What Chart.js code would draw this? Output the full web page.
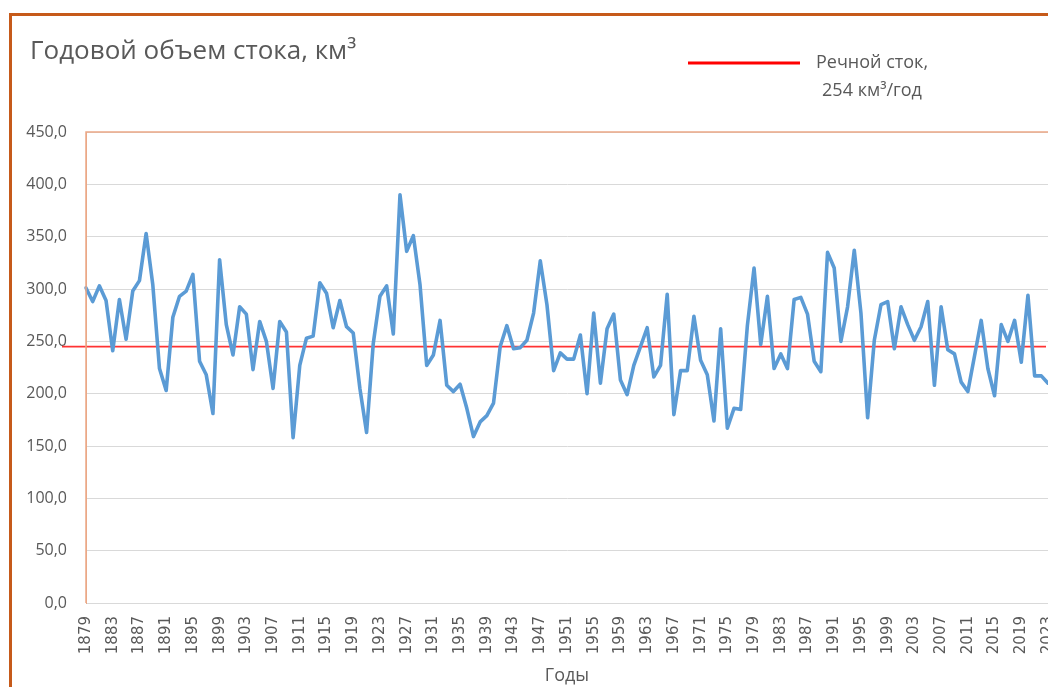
<!DOCTYPE html>
<html lang="ru">
<head>
<meta charset="utf-8">
<title>Годовой объем стока</title>
<script src="https://cdn.jsdelivr.net/npm/chart.js@4.4.1/dist/chart.umd.min.js"></script>
<style>
  html, body { margin: 0; padding: 0; background: #fff; overflow: hidden; }
  #frame {
    position: absolute; left: 9px; top: 13px; width: 1100px; height: 700px;
    border-left: 3px solid #c65a1a; border-top: 3px solid #c65a1a;
  }
  #wrap { position: absolute; left: 0; top: 0; width: 1080px; height: 687px; }
</style>
</head>
<body>
<div id="frame"></div>
<div id="wrap"><canvas id="chart"></canvas></div>
<script>
// годовой объем стока, км3
const firstYear = 1879;
const runoff = [
  301, 288, 303, 289, 241, 290, 252, 298, 308, 353, 304,   // 1879-1889
  224, 203, 273, 293, 298, 314, 231, 218, 181, 328,        // 1890-е
  266, 237, 283, 276, 223, 269, 250, 205, 269, 259,        // 1900-е
  158, 227, 253, 255, 306, 296, 263, 289, 264, 258,        // 1910-е
  205, 163, 248, 293, 303, 257, 390, 336, 351, 304,        // 1920-е
  227, 237, 270, 208, 202, 209, 186, 159, 173, 179,        // 1930-е
  191, 245, 265, 243, 244, 251, 277, 327, 285, 222,        // 1940-е
  239, 233, 233, 256, 200, 277, 210, 262, 276, 213,        // 1950-е
  199, 227, 245, 263, 216, 227, 295, 180, 222, 222,        // 1960-е
  274, 232, 218, 174, 262, 167, 186, 185, 265, 320,        // 1970-е
  247, 293, 224, 238, 224, 290, 292, 276, 231, 221,        // 1980-е
  335, 320, 250, 283, 337, 277, 177, 251, 285, 288,        // 1990-е
  243, 283, 266, 251, 264, 288, 208, 283, 242, 238,        // 2000-е
  211, 202, 236, 270, 224, 198, 266, 250, 270, 230,        // 2010-е
  294, 217, 217, 210                                       // 2020-2023
];
const years = runoff.map((v, i) => String(firstYear + i));

// линия речного стока (по положению на рисунке)
const riverFlow = 245;
const riverLabel = ['Речной сток,', '254 км³/год'];

const chartTitle = 'Годовой объем стока, км³';
const xTitle = 'Годы';
const yMax = 450;
const yStep = 50;
const labelEvery = 4;

const textColor = '#595959';
const blue = '#5b9bd5';
const red = '#ff0000';
const plotBorder = '#eba886';

const decor = {
  id: 'decor',
  beforeDatasetsDraw(chart) {
    const { ctx, chartArea, scales } = chart;
    const y = scales.y.getPixelForValue(riverFlow);
    ctx.save();
    ctx.strokeStyle = 'rgba(255,0,0,0.8)';
    ctx.lineWidth = 1.8;
    ctx.beginPath();
    ctx.moveTo(chartArea.left - 24, y);
    ctx.lineTo(chartArea.right - 2, y);
    ctx.stroke();
    ctx.restore();
  },
  afterDraw(chart) {
    const { ctx, chartArea } = chart;
    ctx.save();
    // рамка области построения
    ctx.strokeStyle = plotBorder;
    ctx.lineWidth = 1.5;
    ctx.beginPath();
    ctx.moveTo(chartArea.left, chartArea.bottom);
    ctx.lineTo(chartArea.left, chartArea.top);
    ctx.lineTo(chartArea.right + 40, chartArea.top);
    ctx.stroke();

    // заголовок
    ctx.fillStyle = textColor;
    ctx.font = '26px "Open Sans", sans-serif';
    ctx.textBaseline = 'middle';
    ctx.textAlign = 'left';
    ctx.fillText(chartTitle, 30, 52);

    // легенда
    ctx.strokeStyle = red;
    ctx.lineWidth = 3;
    ctx.beginPath();
    ctx.moveTo(688, 63);
    ctx.lineTo(800, 63);
    ctx.stroke();
    ctx.font = '18px "Open Sans", sans-serif';
    ctx.textAlign = 'center';
    riverLabel.forEach((t, i) => ctx.fillText(t, 872, 63 + i * 28));
    ctx.restore();
  }
};

new Chart(document.getElementById('chart'), {
  type: 'line',
  data: {
    labels: years,
    datasets: [{
      label: 'Годовой объем стока',
      data: runoff,
      borderColor: blue,
      backgroundColor: blue,
      borderWidth: 3.6,
      borderJoinStyle: 'round',
      borderCapStyle: 'round',
      pointRadius: 0,
      tension: 0,
      fill: false
    }]
  },
  options: {
    responsive: true,
    maintainAspectRatio: false,
    animation: false,
    layout: { padding: { left: 0, top: 132, right: 32, bottom: 0 } },
    plugins: {
      legend: { display: false },
      title: { display: false },
      tooltip: { enabled: false }
    },
    scales: {
      x: {
        offset: false,
        afterFit: (s) => { s.height = 84; },
        grid: { display: false, drawTicks: false },
        border: { display: true, color: '#d9d9d9' },
        ticks: {
          autoSkip: false,
          maxRotation: 90,
          minRotation: 90,
          padding: 13,
          color: textColor,
          font: { family: 'DejaVu Sans', size: 15 },
          callback: function (value, index) {
            return index % labelEvery === 0 ? this.getLabelForValue(value) : '';
          }
        },
        title: {
          display: true,
          text: xTitle,
          color: textColor,
          font: { family: 'Open Sans', size: 18 },
          padding: { top: 0, bottom: 0 }
        }
      },
      y: {
        min: 0,
        max: yMax,
        afterFit: (s) => { s.width = 86; },
        grid: { color: '#d9d9d9', drawTicks: false },
        border: { display: true, color: plotBorder },
        ticks: {
          stepSize: yStep,
          padding: 19,
          color: textColor,
          font: { family: 'Open Sans', size: 16 },
          callback: (v) => v.toFixed(1).replace('.', ',')
        }
      }
    }
  },
  plugins: [decor]
});
</script>
</body>
</html>
